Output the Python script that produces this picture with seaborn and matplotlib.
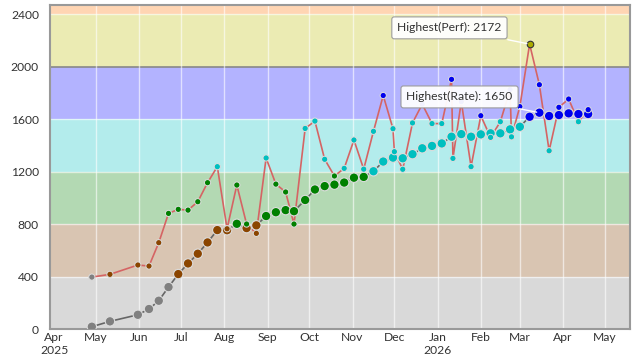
import pandas as pd
import matplotlib
matplotlib.use("Agg")
import matplotlib.pyplot as plt
import seaborn as sns

# weekly rating and performance values
rate_dates = ["2025-04-28", "2025-05-11", "2025-05-31", "2025-06-08", "2025-06-15",
              "2025-06-22", "2025-06-29", "2025-07-06", "2025-07-13", "2025-07-20",
              "2025-07-27", "2025-08-03", "2025-08-10", "2025-08-17", "2025-08-24",
              "2025-08-31", "2025-09-07", "2025-09-14", "2025-09-20", "2025-09-28",
              "2025-10-05", "2025-10-12", "2025-10-19", "2025-10-26", "2025-11-02",
              "2025-11-09", "2025-11-16", "2025-11-23", "2025-11-30", "2025-12-07",
              "2025-12-14", "2025-12-21", "2025-12-28", "2026-01-04", "2026-01-11",
              "2026-01-18", "2026-01-25", "2026-02-01", "2026-02-08", "2026-02-15",
              "2026-02-22", "2026-03-01", "2026-03-08", "2026-03-15", "2026-03-22",
              "2026-03-29", "2026-04-05", "2026-04-12", "2026-04-19"]
rate_values = [20, 61, 111, 155, 218, 322, 421, 502, 576, 662,
               756, 755, 804, 771, 792, 863, 892, 908, 900, 985,
               1065, 1091, 1102, 1118, 1155, 1161, 1204, 1278, 1308, 1303,
               1334, 1379, 1397, 1416, 1467, 1487, 1467, 1485, 1493, 1493,
               1523, 1543, 1619, 1650, 1625, 1632, 1645, 1640, 1640]

perf_dates = ["2025-04-28", "2025-05-11", "2025-05-31", "2025-06-08", "2025-06-15",
              "2025-06-22", "2025-06-29", "2025-07-06", "2025-07-13", "2025-07-20",
              "2025-07-27", "2025-08-03", "2025-08-10", "2025-08-17", "2025-08-24",
              "2025-08-31", "2025-09-07", "2025-09-14", "2025-09-20", "2025-09-28",
              "2025-10-05", "2025-10-12", "2025-10-19", "2025-10-26", "2025-11-02",
              "2025-11-09", "2025-11-16", "2025-11-23", "2025-11-30", "2025-12-01",
              "2025-12-07", "2025-12-14", "2025-12-21", "2025-12-28", "2026-01-04",
              "2026-01-11", "2026-01-12", "2026-01-18", "2026-01-25", "2026-02-01",
              "2026-02-08", "2026-02-15", "2026-02-22", "2026-02-23", "2026-03-01",
              "2026-03-08", "2026-03-15", "2026-03-22", "2026-03-29", "2026-04-05",
              "2026-04-12", "2026-04-19"]
perf_values = [398, 419, 490, 482, 660, 883, 914, 908, 972, 1117,
               1239, 766, 1099, 802, 731, 1305, 1106, 1046, 802, 1530,
               1586, 1295, 1168, 1226, 1442, 1220, 1508, 1781, 1528, 1353,
               1219, 1572, 1715, 1567, 1567, 1904, 1302, 1734, 1239, 1627,
               1462, 1581, 1826, 1466, 1696, 2172, 1863, 1360, 1691, 1754,
               1581, 1673]

band_edges = [0, 400, 800, 1200, 1600, 2000, 2400, 2470]
band_fill = ["#d9d9d9", "#d9c5b2", "#b3d9b3", "#b3ecec", "#b3b3ff", "#ebebb3", "#ffd5b3"]
band_mark = ["#808080", "#8b4500", "#008000", "#00bfbf", "#0000ee", "#aaaa00", "#ff8000"]

rate = pd.DataFrame({"date": pd.to_datetime(rate_dates), "value": rate_values})
perf = pd.DataFrame({"date": pd.to_datetime(perf_dates), "value": perf_values})


def band_of(v):
    for i in range(len(band_edges) - 1):
        if v < band_edges[i + 1]:
            return i
    return len(band_edges) - 2


rate["band"] = rate["value"].apply(band_of)
perf["band"] = perf["value"].apply(band_of)
palette = {i: c for i, c in enumerate(band_mark)}

sns.set_style("white")
plt.rcParams["font.family"] = ["Lato", "DejaVu Sans"]

fig = plt.figure(figsize=(6.37, 3.58), dpi=100)
ax = fig.add_axes([0.0785, 0.08, 0.9105, 0.906])

for i in range(len(band_fill)):
    ax.axhspan(band_edges[i], band_edges[i + 1], color=band_fill[i], lw=0, zorder=0)
for y in [400, 800, 1200, 1600, 2400]:
    ax.axhline(y, color="white", lw=1, alpha=0.6, zorder=1)
ax.axhline(2000, color="#888888", lw=1.2, zorder=1)

months = pd.date_range("2025-04-01", "2026-05-01", freq="MS")
for m in months[1:]:
    ax.axvline(m, color="white", lw=1, alpha=0.6, zorder=1)

sns.lineplot(data=rate, x="date", y="value", color="#666666", lw=1.2, ax=ax, zorder=2)
sns.lineplot(data=perf, x="date", y="value", color="#d56464", lw=1.2, ax=ax, zorder=3)
sns.scatterplot(data=rate, x="date", y="value", hue="band", palette=palette, s=46,
                edgecolor="#dddddd", linewidth=0.8, legend=False, ax=ax, zorder=4)
sns.scatterplot(data=perf, x="date", y="value", hue="band", palette=palette, s=20,
                edgecolor="#dddddd", linewidth=0.7, legend=False, ax=ax, zorder=5)

# highest points
top_perf = perf.loc[perf["value"].idxmax()]
top_rate = rate.loc[rate["value"].idxmax()]
ax.scatter([top_perf["date"]], [top_perf["value"]], s=22, color="#aaaa00",
           edgecolor="#333333", linewidth=0.8, zorder=6)
box = dict(boxstyle="round,pad=0.45,rounding_size=0.2", fc="white", ec="#999999", lw=0.8, alpha=0.95)
ax.annotate(f"Highest(Perf): {top_perf['value']}", xy=(top_perf["date"], top_perf["value"]),
            xytext=(pd.Timestamp("2026-01-09 12:00"), 2296), ha="center", va="center",
            fontsize=8.7, color="#333333", bbox=box, zorder=7,
            arrowprops=dict(arrowstyle="-", color="white", lw=1.0))
ax.annotate(f"Highest(Rate): {top_rate['value']}", xy=(top_rate["date"], top_rate["value"]),
            xytext=(pd.Timestamp("2026-01-16 18:00"), 1770), ha="center", va="center",
            fontsize=8.7, color="#333333", bbox=box, zorder=7,
            arrowprops=dict(arrowstyle="-", color="white", lw=1.0))

ax.set_xlim(pd.Timestamp("2025-03-29"), pd.Timestamp("2026-05-19"))
ax.set_ylim(0, 2470)
ax.set_yticks([0, 400, 800, 1200, 1600, 2000, 2400])
ax.set_xticks(months)
labels = []
for m in months:
    lab = m.strftime("%b")
    if m.month == 1 or m == months[0]:
        lab += "\n" + m.strftime("%Y")
    labels.append(lab)
ax.set_xticklabels(labels)
ax.tick_params(axis="both", length=0, labelsize=8.7, colors="#333333")
ax.tick_params(axis="y", pad=8)
ax.tick_params(axis="x", pad=2)
ax.set_xlabel("")
ax.set_ylabel("")
for s in ax.spines.values():
    s.set_color("#999999")
    s.set_linewidth(1.5)

fig.savefig("out.png", dpi=100)
